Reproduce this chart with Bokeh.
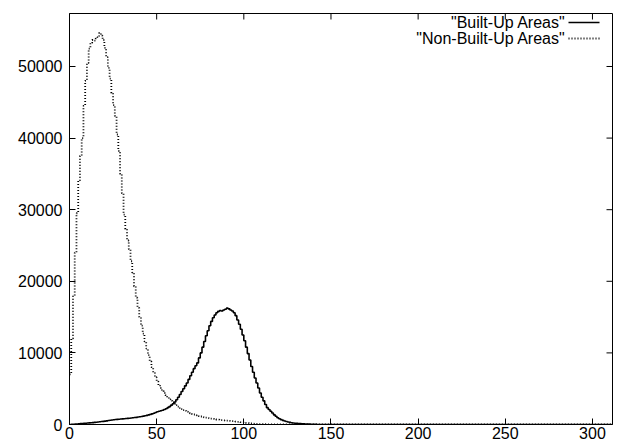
import math
from bokeh.plotting import figure
from bokeh.models import Range1d, FixedTicker, Label, Arrow
from bokeh.embed import file_html
from bokeh.resources import INLINE

bins = list(range(312))

built_up = [0, 20, 40, 60, 80, 100, 120, 140, 160, 180,
            200, 220, 240, 260, 290, 320, 350, 380, 410, 440,
            470, 510, 550, 590, 630, 660, 690, 720, 740, 760,
            790, 810, 830, 860, 880, 910, 940, 970, 1000, 1040,
            1080, 1120, 1170, 1220, 1280, 1340, 1410, 1490, 1580, 1680,
            1790, 1850, 1920, 2000, 2100, 2200, 2350, 2500, 2700, 2900,
            3150, 3450, 3800, 4200, 4600, 5000, 5400, 5800, 6300, 6800,
            7300, 7800, 8200, 8600, 9300, 10000, 10800, 11600, 12400, 13100,
            13800, 14400, 14900, 15300, 15600, 15800, 15900, 15850, 16000, 16100,
            16250, 16150, 16000, 15850, 15600, 15200, 14600, 14000, 13300, 12500,
            11700, 10800, 9900, 9000, 8100, 7300, 6500, 5800, 5100, 4400,
            3800, 3300, 2800, 2350, 2100, 1850, 1600, 1350, 1150, 950,
            800, 680, 580, 490, 420, 350, 290, 240, 200, 180,
            160, 140, 120, 105, 95, 80, 65, 50, 40, 30,
            20, 15, 10, 5] + [0] * 168

non_built_up = [7000, 12000, 18000, 24000, 29500, 34000, 37500, 40000, 44500, 48000,
                50500, 52500, 53300, 53700, 53600, 53900, 54100, 54700, 54300, 53700,
                52600, 51300, 49800, 48300, 46300, 44600, 43100, 40500, 38200, 35000,
                32300, 29300, 27300, 25700, 24500, 22800, 21200, 19300, 17700, 16300,
                15000, 13800, 12700, 11600, 10600, 9700, 8800, 8000, 7300, 6600,
                6000, 5500, 5100, 4700, 4400, 4100, 3800, 3500, 3300, 3100,
                2900, 2700, 2500, 2300, 2150, 2000, 1900, 1780, 1670, 1570,
                1480, 1400, 1320, 1250, 1180, 1120, 1060, 1000, 950, 900,
                860, 820, 780, 740, 700, 670, 640, 610, 580, 560,
                540, 520, 500, 470, 440, 410, 380, 350, 320, 290,
                260, 230, 200, 170, 145, 120, 100, 80, 70, 60,
                50, 40, 35, 30, 25, 20, 15, 12, 10, 8, 5] + [0] * 191

x_ticks = [0, 50, 100, 150, 200, 250, 300]
y_ticks = [0, 10000, 20000, 30000, 40000, 50000]
series_labels = ['"Built-Up Areas"', '"Non-Built-Up Areas"']

FONT = "Liberation Sans"
X_MAX = 311.5
Y_MAX = 57400

p = figure(width=621, height=444, output_backend="svg", toolbar_location=None,
           x_range=Range1d(0, X_MAX), y_range=Range1d(0, Y_MAX),
           min_border_left=69, min_border_right=9, min_border_top=13,
           min_border_bottom=20)
p.background_fill_color = "white"
p.border_fill_color = "white"
p.outline_line_color = "black"
p.outline_line_width = 1
p.xgrid.visible = False
p.ygrid.visible = False

p.step(bins, built_up, mode="after", line_color="black", line_width=1.6)
p.step(bins, non_built_up, mode="after", line_color="black", line_width=1.8,
       line_dash="1 2")

def style_axis(ax, ticks, standoff):
    ax.ticker = FixedTicker(ticks=ticks)
    ax.major_tick_in = 6
    ax.major_tick_out = 0
    ax.minor_tick_line_color = None
    ax.axis_line_color = "black"
    ax.major_tick_line_color = "black"
    ax.major_label_standoff = standoff
    ax.major_label_text_font = FONT
    ax.major_label_text_font_size = "16px"
    ax.major_label_text_color = "black"

style_axis(p.xaxis[0], x_ticks, 2)
style_axis(p.yaxis[0], y_ticks, 7)

# mirrored inward ticks on the top and right edges (gnuplot style)
p.ray(x=x_ticks, y=[Y_MAX] * len(x_ticks), length=6, length_units="screen",
      angle=-math.pi / 2, line_color="black", line_width=1)
p.ray(x=[X_MAX] * len(y_ticks), y=y_ticks, length=6, length_units="screen",
      angle=math.pi, line_color="black", line_width=1)

# legend (gnuplot style: text right-aligned, sample to the right)
rows_y = [402, 386]
dashes = ["solid", "1 2"]
widths = [1.6, 1.8]
for lab, yy, dash, lw in zip(series_labels, rows_y, dashes, widths):
    p.add_layout(Label(x=496, y=yy, x_units="screen", y_units="screen",
                       text=lab, text_align="right", text_baseline="middle",
                       text_font=FONT, text_font_size="16px", text_color="black"))
    p.add_layout(Arrow(end=None, x_start=499, x_end=530, y_start=yy, y_end=yy,
                       start_units="screen", end_units="screen",
                       line_color="black", line_width=lw, line_dash=dash))

open("out.html", "w").write(file_html(p, INLINE))
